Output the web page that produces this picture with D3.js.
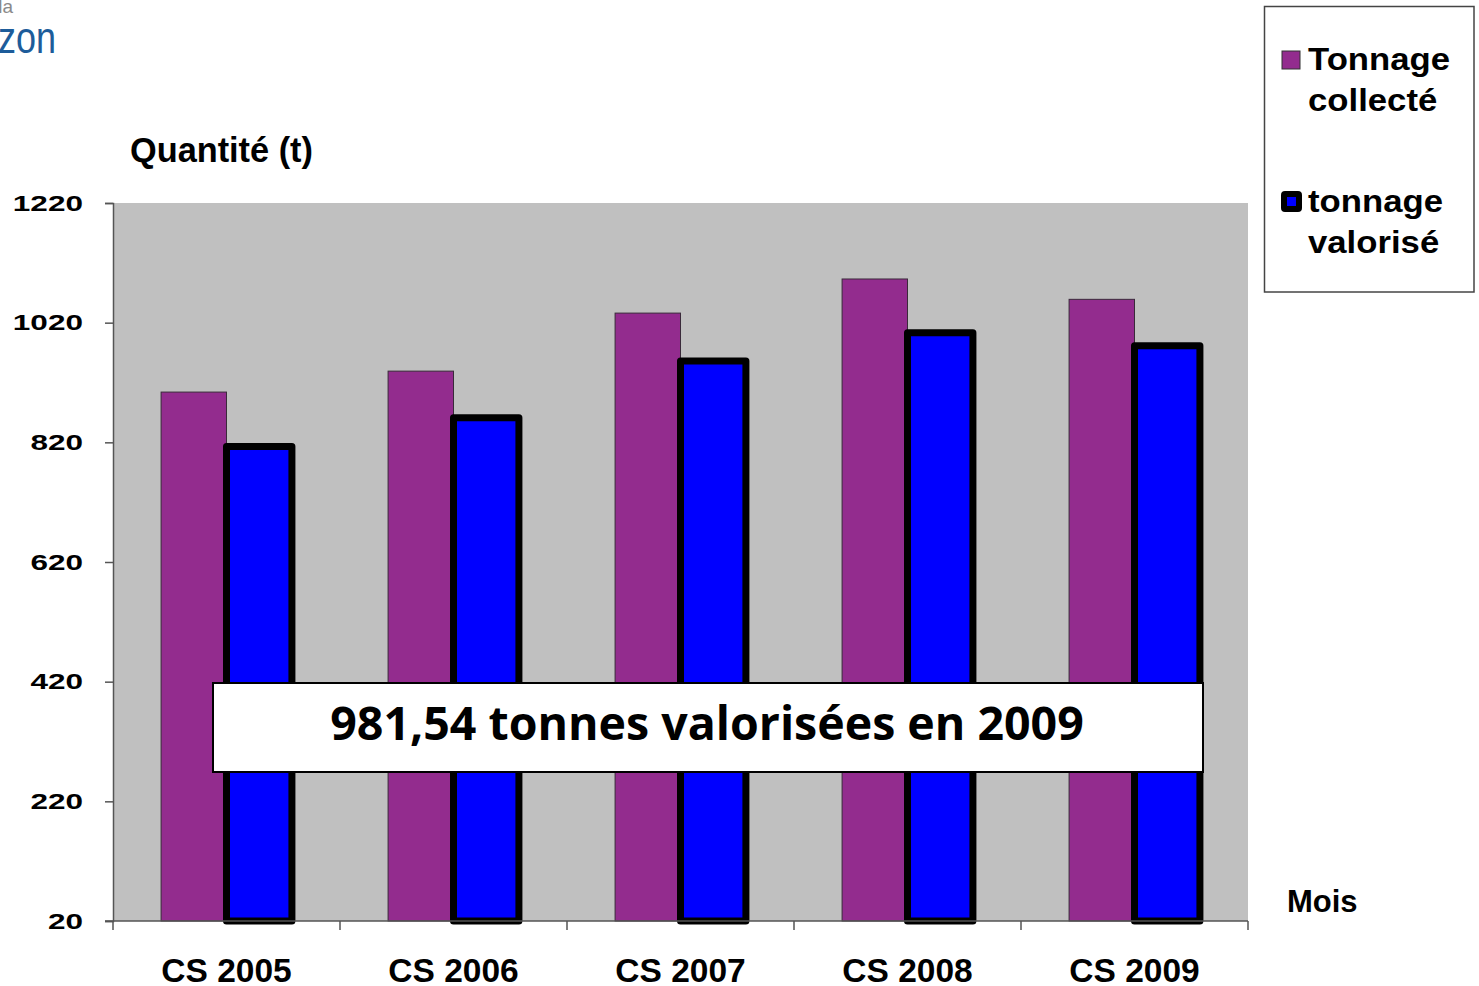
<!DOCTYPE html>
<html>
<head>
<meta charset="utf-8">
<script src="https://cdn.jsdelivr.net/npm/d3@7"></script>
<style>
body{margin:0;background:#fff;}
svg{display:block;}
</style>
</head>
<body>
<div id="chart"></div>
<script>
var w = 1479;
var h = 986;

// data
var years = ["CS 2005", "CS 2006", "CS 2007", "CS 2008", "CS 2009"];
var series = ["collecte", "valorise"];
var collecte = [904, 939, 1036, 1093, 1059];
var valorise = [813, 861, 956, 1003, 981.54];
var yTicks = [20, 220, 420, 620, 820, 1020, 1220];
var legendLabels = [["Tonnage", "collecté"], ["tonnage", "valorisé"]];
var note = "981,54 tonnes valorisées en 2009";

var purple = "#932c8e";
var blue = "#0000ff";

var svg = d3.select("#chart").append("svg")
	.attr("width", w)
	.attr("height", h);

var x = d3.scaleBand()
	.domain(years)
	.range([113, 1248]);

var xs = d3.scaleBand()
	.domain(series)
	.range([0, x.bandwidth()])
	.paddingOuter(0.735);

var y = d3.scaleLinear()
	.domain([20, 1220])
	.range([921, 203]);

// logo bits top-left (cropped in the original)
svg.append("text").attr("x", 13).attr("y", 13)
	.attr("text-anchor", "end")
	.style("font-family", "Liberation Sans, Arial").style("font-size", "19px")
	.style("fill", "#8a8a8a").text("la");
svg.append("text")
	.attr("transform", "translate(56,53) scale(0.8,1)")
	.attr("text-anchor", "end")
	.style("font-family", "Liberation Sans, Arial").style("font-size", "45px")
	.style("fill", "#1d5c9a").text("zon");

// plot area
svg.append("rect")
	.attr("x", 113).attr("y", 203)
	.attr("width", 1248 - 113).attr("height", 921 - 203)
	.style("fill", "#c0c0c0");

var data = years.map(function(d, i){return {year: d, collecte: collecte[i], valorise: valorise[i]};});

var groups = svg.selectAll("g.grp")
	.data(data)
	.enter().append("g")
	.attr("class", "grp")
	.attr("transform", function(d){return "translate(" + x(d.year) + ",0)";});

groups.append("rect")
	.attr("x", xs("collecte"))
	.attr("y", function(d){return y(d.collecte);})
	.attr("width", xs.bandwidth())
	.attr("height", function(d){return y(20) - y(d.collecte);})
	.style("fill", purple)
	.style("stroke", "#3a2a3a")
	.style("stroke-width", 1);

groups.append("rect")
	.attr("x", xs("valorise"))
	.attr("y", function(d){return y(d.valorise);})
	.attr("width", xs.bandwidth())
	.attr("height", function(d){return y(20) - y(d.valorise);})
	.style("fill", blue)
	.style("stroke", "#000")
	.style("stroke-width", 7)
	.style("stroke-linejoin", "round");

// y axis
var yAxis = svg.append("g")
	.attr("transform", "translate(113,0)")
	.call(d3.axisLeft(y).tickValues(yTicks).tickFormat(d3.format("d")).tickSize(8).tickPadding(0));
yAxis.select(".domain").style("stroke", "#555").style("stroke-width", 1.5);
yAxis.selectAll(".tick line").style("stroke", "#555").style("stroke-width", 1.5);
yAxis.selectAll(".tick text")
	.attr("x", -21.5)
	.attr("transform", "scale(1.4,1)")
	.style("font-family", "Liberation Sans, Arial")
	.style("font-weight", "bold")
	.style("font-size", "22.5px")
	.style("fill", "#000");

// x axis
var xAxis = svg.append("g")
	.attr("transform", "translate(0,921)")
	.call(d3.axisBottom(x).tickSize(0).tickPadding(37));
xAxis.select(".domain").attr("d", "M105,0H1248").style("stroke", "#555").style("stroke-width", 1.5);
xAxis.selectAll(".tick text")
	.style("font-family", "Liberation Sans, Arial")
	.style("font-weight", "bold")
	.style("font-size", "33.5px")
	.style("fill", "#000");
svg.append("g").selectAll("line")
	.data(years.concat(["end"]))
	.enter().append("line")
	.attr("x1", function(d, i){return i < years.length ? x(d) : x.range()[1];})
	.attr("x2", function(d, i){return i < years.length ? x(d) : x.range()[1];})
	.attr("y1", 921).attr("y2", 930)
	.style("stroke", "#555").style("stroke-width", 1.5);

// axis titles
svg.append("text").attr("x", 130).attr("y", 162)
	.style("font-family", "Liberation Sans, Arial").style("font-weight", "bold")
	.style("font-size", "34.3px").text("Quantité (t)");
svg.append("text").attr("x", 1287).attr("y", 912)
	.style("font-family", "Liberation Sans, Arial").style("font-weight", "bold")
	.style("font-size", "31px").text("Mois");

// note box
svg.append("rect")
	.attr("x", 213).attr("y", 683)
	.attr("width", 990).attr("height", 89)
	.style("fill", "#fff").style("stroke", "#000").style("stroke-width", 2);
svg.append("text")
	.attr("x", 707).attr("y", 740)
	.attr("text-anchor", "middle")
	.style("font-family", "Open Sans, Noto Sans, sans-serif")
	.style("font-weight", "bold")
	.style("font-size", "46.5px")
	.text(note);

// legend
svg.append("rect")
	.attr("x", 1264.5).attr("y", 6.5)
	.attr("width", 1474 - 1264.5).attr("height", 292 - 6.5)
	.style("fill", "#fff").style("stroke", "#444").style("stroke-width", 1.5);

var legY = [70, 212];
var leg = svg.selectAll("g.leg")
	.data(legendLabels)
	.enter().append("g")
	.attr("class", "leg")
	.attr("transform", function(d, i){return "translate(0," + legY[i] + ")";});

leg.append("rect")
	.attr("x", function(d, i){return i === 0 ? 1282 : 1284;})
	.attr("y", function(d, i){return i === 0 ? -19 : -18;})
	.attr("width", function(d, i){return i === 0 ? 18 : 15;})
	.attr("height", function(d, i){return i === 0 ? 18 : 15;})
	.attr("rx", function(d, i){return i === 0 ? 0 : 1;})
	.style("fill", function(d, i){return i === 0 ? purple : blue;})
	.style("stroke", function(d, i){return i === 0 ? "#333" : "#000";})
	.style("stroke-width", function(d, i){return i === 0 ? 1 : 6;});

leg.each(function(d){
	var t = d3.select(this).append("text")
		.attr("transform", "translate(1308,0) scale(1.12,1)")
		.style("font-family", "Liberation Sans, Arial")
		.style("font-weight", "bold")
		.style("font-size", "31px");
	t.append("tspan").attr("x", 0).attr("y", 0).text(d[0]);
	t.append("tspan").attr("x", 0).attr("y", 41).text(d[1]);
});
</script>
</body>
</html>
